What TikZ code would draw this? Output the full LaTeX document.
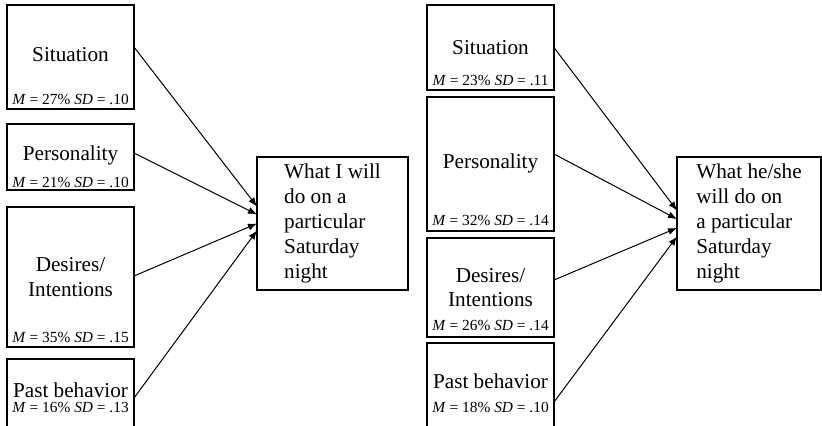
\documentclass[tikz,border=0pt]{standalone}
\usepackage{fontspec}
\setmainfont{Liberation Serif}
\usetikzlibrary{arrows.meta,positioning}

\begin{document}
\begin{tikzpicture}[
		x=0.5pt, y=-0.5pt,
		factor/.style={draw, line width=0.7pt, minimum width=63.5pt, inner sep=0pt, outer sep=0pt},
		outcome/.style={draw, line width=0.7pt, align=left, inner sep=0pt, outer sep=0pt, minimum height=66.5pt, anchor=north west, font=\fontsize{10.6}{12.4}\selectfont},
		ftext/.style={align=center, inner sep=0pt, font=\fontsize{10.6}{12.4}\selectfont},
		stats/.style={anchor=base, inner sep=0pt, font=\fontsize{7.7}{9}\selectfont},
		link/.style={-{Latex[length=4.5pt,width=3.5pt]}, line width=0.5pt},
	]
		\useasboundingbox (0,0) rectangle (822,425);
		\clip (0,0) rectangle (822,425);

		\node (sitA) [factor, minimum height=52pt, anchor=north west] at (7,5) {};
		\node (perA) [factor, minimum height=33pt, below=7.5pt of sitA] {};
		\node (desA) [factor, minimum height=70pt, below=8.5pt of perA] {};
		\node (pastA) [factor, minimum height=34pt, below=6pt of desA] {};

		\node (sitB) [factor, minimum height=42.5pt, anchor=north west] at (427,5) {};
		\node (perB) [factor, minimum height=67pt, below=3.5pt of sitB] {};
		\node (desB) [factor, minimum height=49.5pt, below=3.5pt of perB] {};
		\node (pastB) [factor, minimum height=42pt, below=3pt of desB] {};

		\node (doA) [outcome, minimum width=75.5pt] at (257,157) {What I will\\do on a\\particular\\Saturday\\night};
		\node (doB) [outcome, minimum width=72pt] at (677,157) {What he/she\\will do on\\a particular\\Saturday\\night};

		\node (sitAt) [ftext, yshift=1pt] at (sitA) {Situation};
		\node (perAt) [ftext, yshift=1pt] at (perA) {Personality};
		\node (desAt) [ftext] at (desA) {Desires/\\Intentions};
		\node (pastAt) [ftext, yshift=1.5pt] at (pastA) {Past behavior};
		\node (sitBt) [ftext] at (sitB) {Situation};
		\node (perBt) [ftext, yshift=0.5pt] at (perB) {Personality};
		\node (desBt) [ftext] at (desB) {Desires/\\Intentions};
		\node (pastBt) [ftext, yshift=2pt] at (pastB) {Past behavior};

		\node (sitAs) [stats] at ([yshift=2.5pt]sitA.south) {\textit{M} = 27\% \textit{SD} = .10};
		\node (perAs) [stats] at ([yshift=1.5pt]perA.south) {\textit{M} = 21\% \textit{SD} = .10};
		\node (desAs) [stats] at ([yshift=2.5pt]desA.south) {\textit{M} = 35\% \textit{SD} = .15};
		\node (pastAs) [stats] at ([yshift=7.5pt]pastA.south) {\textit{M} = 16\% \textit{SD} = .13};
		\node (sitBs) [stats] at ([yshift=2.5pt]sitB.south) {\textit{M} = 23\% \textit{SD} = .11};
		\node (perBs) [stats] at ([yshift=3pt]perB.south) {\textit{M} = 32\% \textit{SD} = .14};
		\node (desBs) [stats] at ([yshift=3.3pt]desB.south) {\textit{M} = 26\% \textit{SD} = .14};
		\node (pastBs) [stats] at ([yshift=7.5pt]pastB.south) {\textit{M} = 18\% \textit{SD} = .10};

		\draw[link] ([yshift=5pt]sitA.east) -- ([yshift=8.5pt]doA.west);
		\draw[link] ([yshift=2pt]perA.east) -- ([yshift=4.5pt]doA.west);
		\draw[link] ([yshift=0.5pt]desA.east) -- (doA.west);
		\draw[link] ([yshift=-2.5pt]pastA.east) -- ([yshift=-3.5pt]doA.west);

		\draw[link] (sitB.east) -- ([yshift=6.5pt]doB.west);
		\draw[link] ([yshift=5pt]perB.east) -- ([yshift=2.2pt]doB.west);
		\draw[link] ([yshift=3.75pt]desB.east) -- ([yshift=-2.2pt]doB.west);
		\draw[link] ([yshift=-8.5pt]pastB.east) -- ([yshift=-6.5pt]doB.west);
	\end{tikzpicture}
\end{document}
